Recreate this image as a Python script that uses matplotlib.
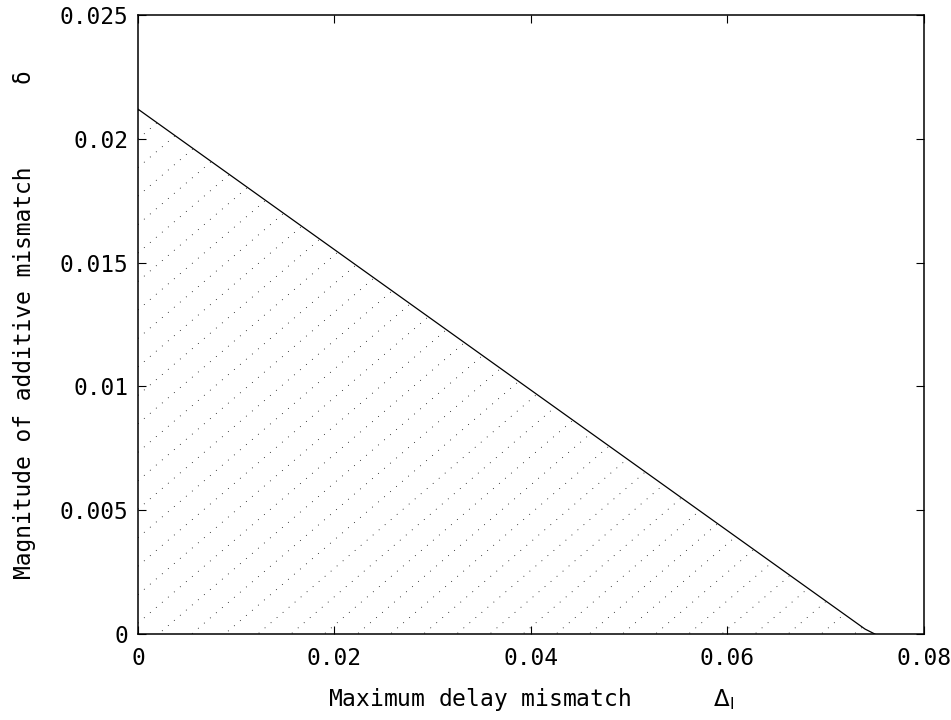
import numpy as np
import matplotlib
matplotlib.use("Agg")
import matplotlib.pyplot as plt
from matplotlib.ticker import FormatStrFormatter

plt.rcParams["font.family"] = ["DejaVu Sans Mono", "DejaVu Sans"]
plt.rcParams["mathtext.fontset"] = "dejavusans"

# boundary of the admissible region
line_x = [0.0, 0.0740, 0.0750]
line_y = [0.0212, 0.0002, 0.0]

x_ticks = [0, 0.02, 0.04, 0.06, 0.08]
y_ticks = [0, 0.005, 0.01, 0.015, 0.02, 0.025]
x_label = "Maximum delay mismatch      $\\Delta_\\mathrm{l}$"
y_label = "Magnitude of additive mismatch      δ"

fig = plt.figure(figsize=(9.51, 7.2), dpi=100)
ax = fig.add_axes([0.1451, 0.1194, 0.8265, 0.8597])

# hatched region under the line
poly = ax.fill(line_x + [0.0], line_y + [0.0], facecolor="none", edgecolor="none")[0]
hatch_slope = 0.341
hatch_step = 0.00115
xx = np.array([0.0, 0.08])
for k in range(-70, 25):
    c = 0.01999 + k * hatch_step
    (ln,) = ax.plot(xx, hatch_slope * xx + c, color="black", lw=0.6,
                    linestyle=(0, (1, 8.5)))
    ln.set_clip_path(poly)

ax.plot(line_x, line_y, color="black", lw=0.9)

ax.set_xlim(0, 0.08)
ax.set_ylim(0, 0.025)
ax.set_xticks(x_ticks)
ax.set_yticks(y_ticks)
ax.xaxis.set_major_formatter(FormatStrFormatter("%g"))
ax.yaxis.set_major_formatter(FormatStrFormatter("%g"))
ax.tick_params(direction="in", length=6, width=0.8, top=True, right=True,
               labelsize=16.5)
ax.tick_params(axis="x", pad=9)
ax.tick_params(axis="y", pad=7)
for sp in ax.spines.values():
    sp.set_linewidth(1.1)

ax.set_xlabel(x_label, fontsize=16.5, labelpad=12)
ax.set_ylabel(y_label, fontsize=16.5, labelpad=17)

fig.savefig("out.png", dpi=100)
